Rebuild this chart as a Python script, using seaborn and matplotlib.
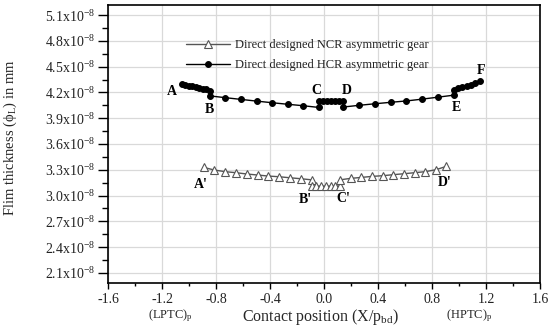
import numpy as np
import pandas as pd
import matplotlib
matplotlib.use("Agg")
import matplotlib.pyplot as plt
import matplotlib.transforms as mtransforms
from matplotlib.ticker import MultipleLocator, FuncFormatter
import seaborn as sns

# ---- data (film thickness in units of 1e-8 mm) ----
hcr_x = [-1.052, -1.026, -1.001, -0.975, -0.950, -0.924, -0.899, -0.873, -0.848, -0.848,
         -0.732, -0.616, -0.500, -0.384, -0.268, -0.153, -0.037, -0.037,
         -0.007, 0.023, 0.053, 0.083, 0.113, 0.143, 0.143,
         0.260, 0.377, 0.494, 0.611, 0.728, 0.845, 0.961, 0.961,
         0.993, 1.025, 1.057, 1.089, 1.121, 1.153]
hcr_y = [4.300, 4.289, 4.279, 4.270, 4.261, 4.252, 4.243, 4.234, 4.222, 4.160,
         4.139, 4.119, 4.099, 4.080, 4.062, 4.045, 4.025, 4.095,
         4.095, 4.095, 4.095, 4.095, 4.095, 4.095, 4.030,
         4.050, 4.068, 4.085, 4.101, 4.122, 4.145, 4.168, 4.233,
         4.250, 4.263, 4.276, 4.291, 4.310, 4.332]

ncr_x = [-0.892, -0.812, -0.732, -0.652, -0.572, -0.492, -0.412, -0.332, -0.252, -0.172, -0.091, -0.091,
         -0.056, -0.021, 0.014, 0.049, 0.083, 0.118, 0.118,
         0.197, 0.276, 0.355, 0.434, 0.513, 0.592, 0.671, 0.750, 0.829, 0.907]
ncr_y = [3.328, 3.297, 3.278, 3.266, 3.251, 3.239, 3.227, 3.219, 3.207, 3.196, 3.183, 3.110,
         3.110, 3.110, 3.110, 3.110, 3.110, 3.110, 3.183,
         3.200, 3.211, 3.223, 3.231, 3.243, 3.254, 3.266, 3.278, 3.301, 3.340]

point_labels = ["A", "B", "C", "D", "E", "F", "A'", "B'", "C'", "D'"]
label_x = [-1.125, -0.85, -0.054, 0.168, 0.981, 1.166, -0.916, -0.14, 0.143, 0.894]
label_y = [4.216, 4.002, 4.224, 4.224, 4.022, 4.457, 3.134, 2.950, 2.970, 3.153]

series_names = ["Direct designed NCR asymmetric gear", "Direct designed HCR asymmetric gear"]
yticks = [2.1, 2.4, 2.7, 3.0, 3.3, 3.6, 3.9, 4.2, 4.5, 4.8, 5.1]
xticks = [-1.6, -1.2, -0.8, -0.4, 0.0, 0.4, 0.8, 1.2, 1.6]

# ---- style ----
sns.set_theme(style="white")
plt.rcParams['font.family'] = ['Liberation Serif', 'DejaVu Serif']
plt.rcParams['mathtext.fontset'] = 'custom'
plt.rcParams['mathtext.rm'] = 'Liberation Serif'
plt.rcParams['mathtext.it'] = 'Liberation Serif:italic'
plt.rcParams['mathtext.default'] = 'regular'

fig = plt.figure(figsize=(5.55, 3.27), dpi=100)
ax = fig.add_axes([0.1946, 0.1346, 0.7784, 0.8501])

ax.grid(True, which='major', color='#d9d9d9', linewidth=0.9, zorder=0)
ax.set_axisbelow(True)

ncr_df = pd.DataFrame({"x": ncr_x, "y": ncr_y})
hcr_df = pd.DataFrame({"x": hcr_x, "y": hcr_y})

sns.lineplot(data=ncr_df, x="x", y="y", sort=False, estimator=None, ax=ax,
             color='#555555', linewidth=1.0, marker='^', markersize=5.5,
             markerfacecolor='white', markeredgecolor='#555555', markeredgewidth=0.8,
             label=series_names[0])
sns.lineplot(data=hcr_df, x="x", y="y", sort=False, estimator=None, ax=ax,
             color='black', linewidth=1.0, marker='o', markersize=4.2,
             markerfacecolor='black', markeredgecolor='black',
             label=series_names[1])

for t, lx, ly in zip(point_labels, label_x, label_y):
    ax.text(lx, ly, t, ha='center', va='center', fontsize=10, fontweight='bold', color='black')

ax.set_xlim(-1.6, 1.6)
ax.set_ylim(1.983, 5.217)
ax.set_xticks(xticks)
ax.set_yticks(yticks)
ax.xaxis.set_minor_locator(MultipleLocator(0.2))
ax.yaxis.set_minor_locator(MultipleLocator(0.15))
ax.xaxis.set_major_formatter(FuncFormatter(lambda v, p: f"{v:.1f}"))
ax.yaxis.set_major_formatter(FuncFormatter(lambda v, p: f"{v:.1f}x10$^{{-8}}$"))
ax.tick_params(axis='y', which='major', direction='out', length=7, width=1,
               labelsize=10, color='black', labelcolor='#222222', left=True, right=False, pad=2)
ax.tick_params(axis='y', which='minor', direction='out', length=4, width=1,
               color='black', left=True, right=False)
ax.tick_params(axis='x', which='major', direction='out', length=4.5, width=1,
               labelsize=10, color='black', labelcolor='#222222', bottom=True, top=False, pad=3)
ax.tick_params(axis='x', which='minor', direction='out', length=2.5, width=1,
               color='black', bottom=True, top=False)
for s in ax.spines.values():
    s.set_color('black')
    s.set_linewidth(1.2)

ax.set_xlabel("Contact position (X/p$_{bd}$)", fontsize=11.5)
ax.xaxis.set_label_coords(0.491, -0.085)
ax.set_ylabel("Flim thickness ($\\phi_L$) in mm", fontsize=10.5)
ax.yaxis.set_label_coords(-0.205, 0.523)

trans = mtransforms.blended_transform_factory(ax.transData, ax.transAxes)
ax.text(-1.138, -0.118, "(LPTC)$_p$", transform=trans, ha='center', va='center', fontsize=9)
ax.text(1.079, -0.118, "(HPTC)$_p$", transform=trans, ha='center', va='center', fontsize=9)

leg = ax.legend(loc='upper left', bbox_to_anchor=(0.181, 0.878), frameon=False,
                fontsize=9, handlelength=3.5, handletextpad=0.4, labelspacing=0.68,
                borderpad=0, borderaxespad=0)
for txt in leg.get_texts():
    txt.set_color('#222222')

fig.savefig("out.png", dpi=100)
